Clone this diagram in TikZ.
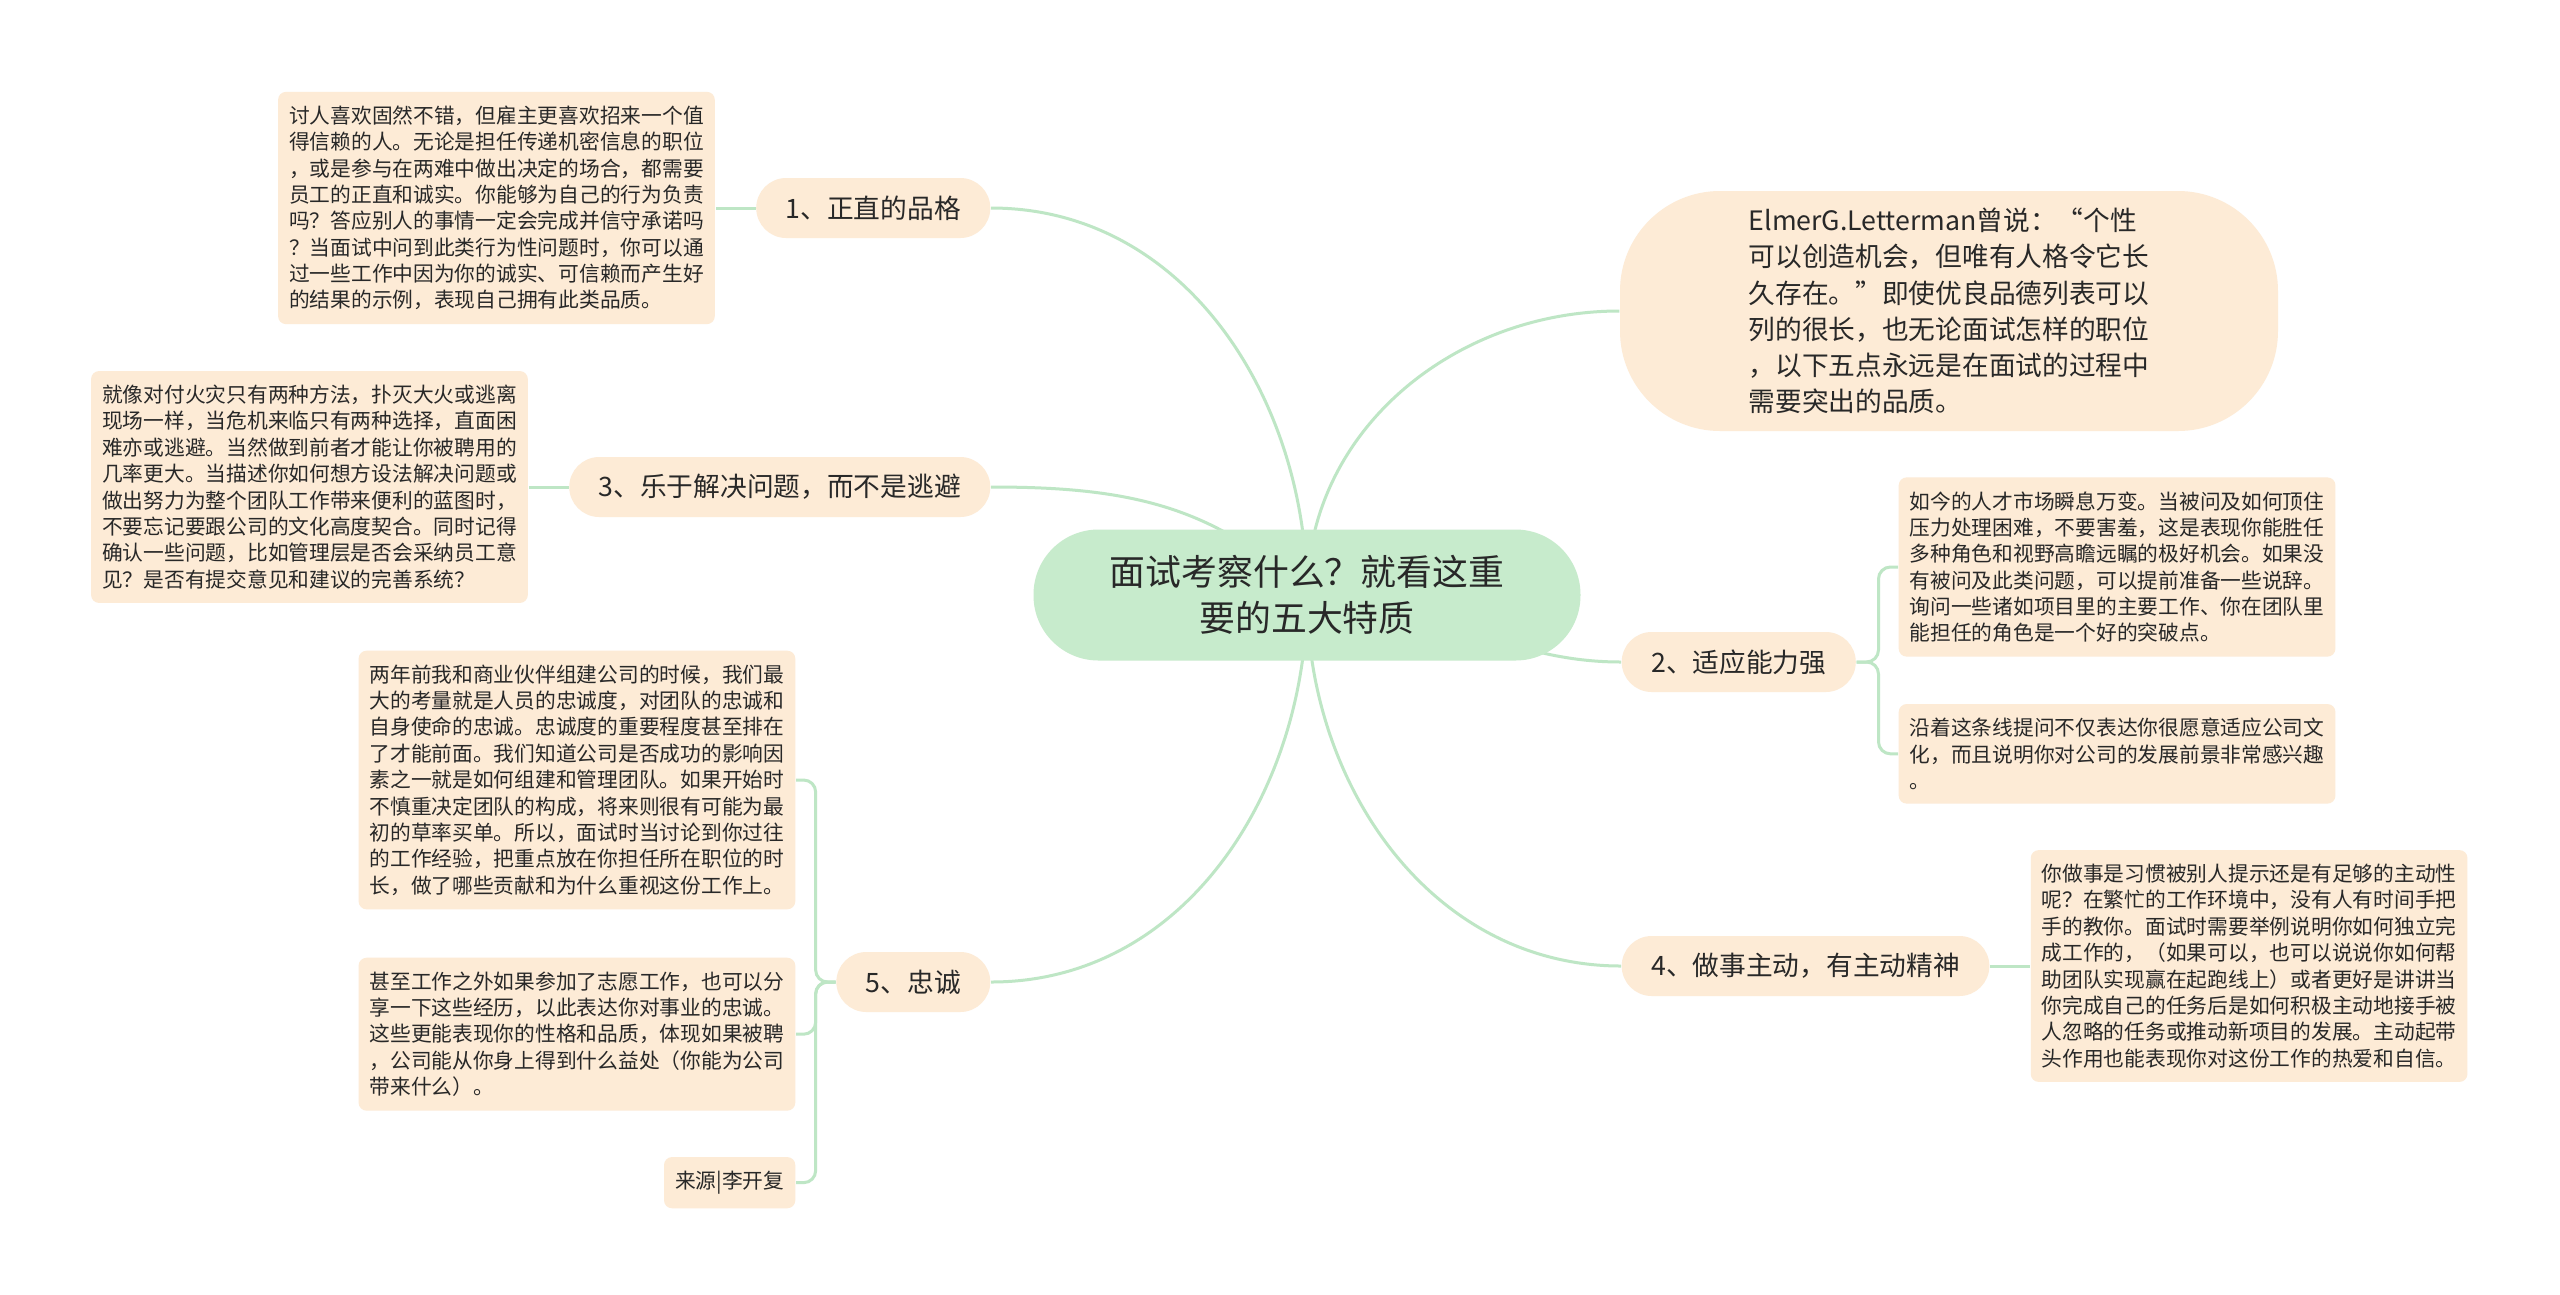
\documentclass[tikz,border=0pt]{standalone}
\usepackage{fontspec}
\setmainfont{Noto Sans CJK SC}
\usepackage{tikz}
\usetikzlibrary{positioning,backgrounds}
\definecolor{peach}{RGB}{253,235,214}
\definecolor{rootgreen}{RGB}{199,235,204}
\definecolor{linkgreen}{RGB}{190,230,197}
\definecolor{txt}{RGB}{40,40,40}

\begin{document}
\begin{tikzpicture}[x=0.1mm, y=-0.1mm,
  node distance=4mm,
  root/.style={fill=rootgreen, rounded corners=6.5mm, align=center, text=txt, font=\fontsize{10.2pt}{13pt}\selectfont, minimum width=54.7mm, minimum height=13.1mm},
  quote/.style={fill=peach, rounded corners=10mm, align=left, text=txt, font=\fontsize{7.6pt}{10.3pt}\selectfont, minimum width=65.8mm, minimum height=24mm},
  topic/.style={fill=peach, rounded corners=3mm, text=txt, font=\fontsize{7.6pt}{9pt}\selectfont, inner xsep=2.95mm, inner ysep=0pt, minimum height=6mm},
  leaf/.style={fill=peach, rounded corners=0.8mm, align=left, text=txt, font=\fontsize{5.9pt}{7.5pt}\selectfont, inner xsep=1.1mm, inner ysep=1.4mm},
  link/.style={draw=linkgreen, line width=0.3mm}]
\useasboundingbox (0,0) rectangle (2560,1294);
\node[root] (root) at (1307,595) {面试考察什么？就看这重\\要的五大特质};
\node[quote] (intro) at (1949,311) {ElmerG.Letterman曾说：“个性\\可以创造机会，但唯有人格令它长\\久存在。”即使优良品德列表可以\\列的很长，也无论面试怎样的职位\\，以下五点永远是在面试的过程中\\需要突出的品质。};
\node[topic, anchor=east] (c1) at (991,208) {1、正直的品格};
\node[topic, anchor=east] (c3) at (991,487) {3、乐于解决问题，而不是逃避};
\node[topic, anchor=east] (c5) at (991,982) {5、忠诚};
\node[topic, anchor=west] (c2) at (1621,662) {2、适应能力强};
\node[topic, anchor=west] (c4) at (1621,966) {4、做事主动，有主动精神};
\node[leaf, left=of c1] (l1) {讨人喜欢固然不错，但雇主更喜欢招来一个值\\得信赖的人。无论是担任传递机密信息的职位\\，或是参与在两难中做出决定的场合，都需要\\员工的正直和诚实。你能够为自己的行为负责\\吗？答应别人的事情一定会完成并信守承诺吗\\？当面试中问到此类行为性问题时，你可以通\\过一些工作中因为你的诚实、可信赖而产生好\\的结果的示例，表现自己拥有此类品质。};
\node[leaf, left=of c3] (l3) {就像对付火灾只有两种方法，扑灭大火或逃离\\现场一样，当危机来临只有两种选择，直面困\\难亦或逃避。当然做到前者才能让你被聘用的\\几率更大。当描述你如何想方设法解决问题或\\做出努力为整个团队工作带来便利的蓝图时，\\不要忘记要跟公司的文化高度契合。同时记得\\确认一些问题，比如管理层是否会采纳员工意\\见？是否有提交意见和建议的完善系统？};
\node[leaf, anchor=east] (l5a) at (796,780) {两年前我和商业伙伴组建公司的时候，我们最\\大的考量就是人员的忠诚度，对团队的忠诚和\\自身使命的忠诚。忠诚度的重要程度甚至排在\\了才能前面。我们知道公司是否成功的影响因\\素之一就是如何组建和管理团队。如果开始时\\不慎重决定团队的构成，将来则很有可能为最\\初的草率买单。所以，面试时当讨论到你过往\\的工作经验，把重点放在你担任所在职位的时\\长，做了哪些贡献和为什么重视这份工作上。};
\node[leaf, below=4.7mm of l5a.south east, anchor=north east] (l5b) {甚至工作之外如果参加了志愿工作，也可以分\\享一下这些经历，以此表达你对事业的忠诚。\\这些更能表现你的性格和品质，体现如果被聘\\，公司能从你身上得到什么益处（你能为公司\\带来什么）。};
\node[leaf, below=4.5mm of l5b.south east, anchor=north east] (l5c) {来源|李开复};
\node[leaf, anchor=west] (l2a) at (1898,567) {如今的人才市场瞬息万变。当被问及如何顶住\\压力处理困难，不要害羞，这是表现你能胜任\\多种角色和视野高瞻远瞩的极好机会。如果没\\有被问及此类问题，可以提前准备一些说辞。\\询问一些诸如项目里的主要工作、你在团队里\\能担任的角色是一个好的突破点。};
\node[leaf, below=4.6mm of l2a.south west, anchor=north west] (l2b) {沿着这条线提问不仅表达你很愿意适应公司文\\化，而且说明你对公司的发展前景非常感兴趣\\。};
\node[leaf, right=of c4] (l4) {你做事是习惯被别人提示还是有足够的主动性\\呢？在繁忙的工作环境中，没有人有时间手把\\手的教你。面试时需要举例说明你如何独立完\\成工作的，（如果可以，也可以说说你如何帮\\助团队实现赢在起跑线上）或者更好是讲讲当\\你完成自己的任务后是如何积极主动地接手被\\人忽略的任务或推动新项目的发展。主动起带\\头作用也能表现你对这份工作的热爱和自信。};
\begin{scope}[on background layer]
\fill[white] (0,0) rectangle (2560,1294);
\draw[link] (root.center) to[out=90, in=0] (c1.east);
\draw[link] (root.center) to[out=135, in=0] (c3.east);
\draw[link] (root.center) to[out=-90, in=0] (c5.east);
\draw[link] (root.center) to[out=90, in=180] (intro.west);
\draw[link] (root.center) to[out=0, in=180] (c2.west);
\draw[link] (root.center) to[out=-90, in=180] (c4.west);
\draw[link] (c1) -- (l1);
\draw[link] (c3) -- (l3);
\draw[link] (c4) -- (l4);
\draw[link, rounded corners=1.2mm] (c5.west) -- ++(-2mm,0) |- (l5a.east);
\draw[link, rounded corners=1.2mm] (c5.west) -- ++(-2mm,0) |- (l5b.east);
\draw[link, rounded corners=1.2mm] (c5.west) -- ++(-2mm,0) |- (l5c.east);
\draw[link, rounded corners=1.2mm] (c2.east) -- ++(2.2mm,0) |- (l2a.west);
\draw[link, rounded corners=1.2mm] (c2.east) -- ++(2.2mm,0) |- (l2b.west);
\end{scope}
\end{tikzpicture}
\end{document}
